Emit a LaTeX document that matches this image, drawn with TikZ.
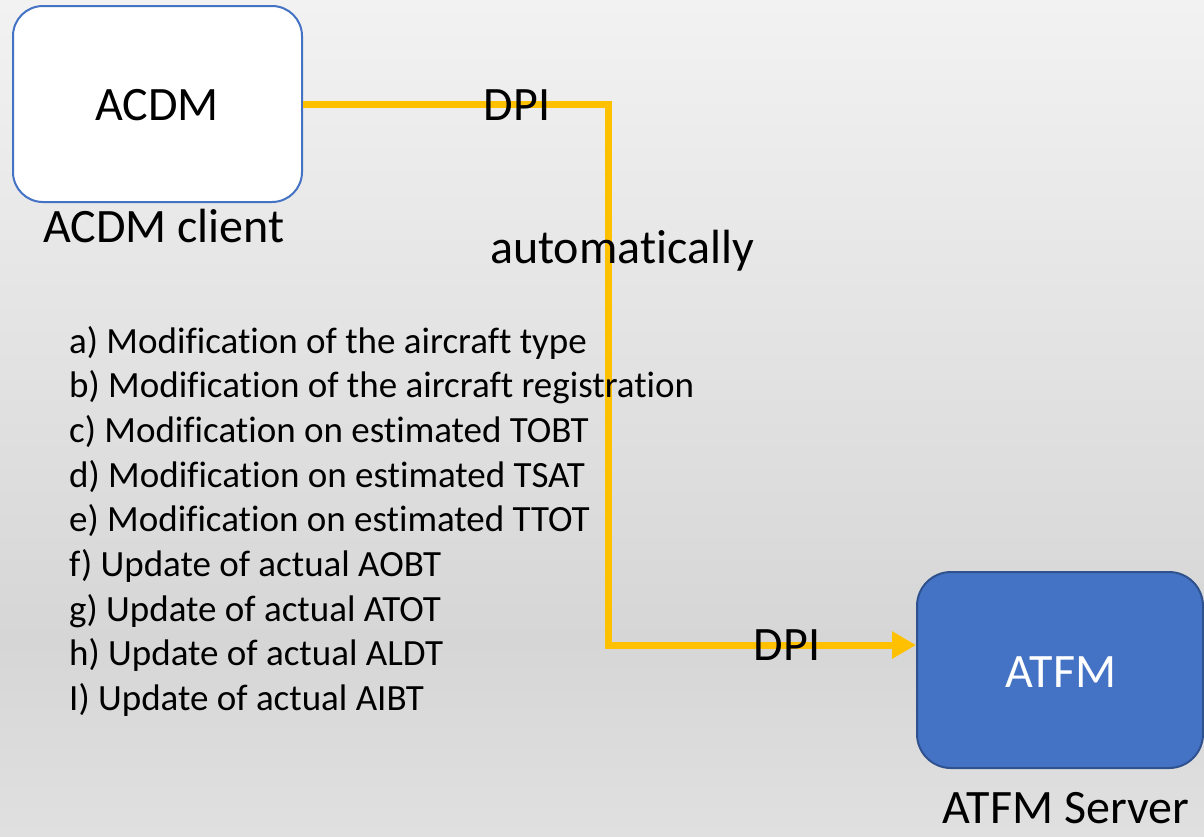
\documentclass[tikz,border=0pt]{standalone}
\usepackage{fontspec}
\setmainfont[Ligatures=CommonOff]{Carlito}
\usetikzlibrary{arrows.meta}
\definecolor{bluebox}{HTML}{4472C4}
\definecolor{blueedge}{HTML}{2F528F}
\definecolor{amber}{HTML}{FFC000}
\definecolor{bgtop}{HTML}{F2F2F2}
\definecolor{bgmid}{HTML}{D6D6D6}
\definecolor{bgbot}{HTML}{E0E0E0}
\tikzset{
  clientbox/.style={draw=bluebox, line width=2pt, fill=white, rounded corners=30pt, inner sep=0pt},
  serverbox/.style={draw=blueedge, line width=2pt, fill=bluebox, rounded corners=34pt, inner sep=0pt},
  bigtext/.style={font=\fontsize{48}{57}\selectfont, inner sep=0pt, anchor=base},
  listtext/.style={font=\fontsize{37}{44.7}\selectfont, inner sep=0pt, anchor=base west},
  flow/.style={draw=amber, line width=7pt}
}
\begin{document}
\begin{tikzpicture}[x=1pt,y=-1pt]
\useasboundingbox (0,0) rectangle (1204,836);
\shade[top color=bgtop, bottom color=bgmid] (0,0) rectangle (1204,640);
\shade[top color=bgmid, bottom color=bgbot] (0,640) rectangle (1204,836);
% boxes
\node[clientbox, minimum width=289pt, minimum height=196pt] (acdm) at (157.5,104) {};
\node[serverbox, minimum width=286pt, minimum height=196pt] (atfm) at (1060,670) {};
\node[bigtext] (acdmlabel) at (157,120) {ACDM};
\node[bigtext, text=white] (atfmlabel) at (1061,687) {ATFM};
\node[bigtext] (acdmcap) at (164,242) {ACDM client};
\node[bigtext] (atfmcap) at (1066,823) {ATFM Server};
% connector
\coordinate (turn) at (608,645);
\draw[flow, -{Triangle[length=24pt,width=26pt]}] (acdm.east) -| (turn) -- (atfm.west |- turn);
\node[bigtext] (dpitop) at (517,120) {DPI};
\node[bigtext] (dpibot) at (787,660) {DPI};
\node[bigtext] (auto) at (622,263) {automatically};
% list
\node[listtext] (la) at (69,353) {a) Modification of the aircraft type};
\node[listtext] (lb) at (69,397.7) {b) Modification of the aircraft registration};
\node[listtext] (lc) at (69,442.4) {c) Modification on estimated TOBT};
\node[listtext] (ld) at (69,487.1) {d) Modification on estimated TSAT};
\node[listtext] (le) at (69,531.8) {e) Modification on estimated TTOT};
\node[listtext] (lf) at (69,576.5) {f) Update of actual AOBT};
\node[listtext] (lg) at (69,621.2) {g) Update of actual ATOT};
\node[listtext] (lh) at (69,665.9) {h) Update of actual ALDT};
\node[listtext] (li) at (69,710.6) {I) Update of actual AIBT};
\end{tikzpicture}
\end{document}
